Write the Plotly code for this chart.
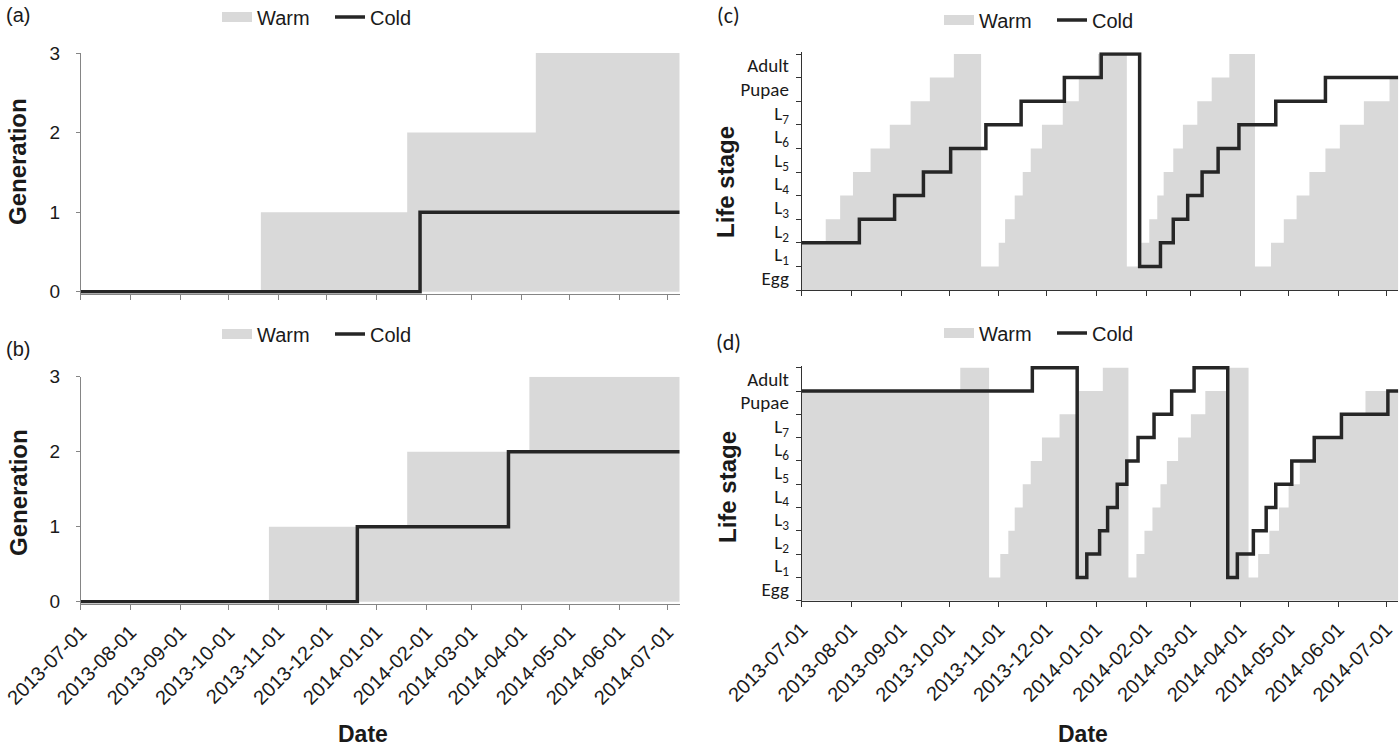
import plotly.graph_objects as go

# ---------------- data ----------------
END_DATE = "2014-07-08 12:00"

month_ticks = ["2013-07-01", "2013-08-01", "2013-09-01", "2013-10-01", "2013-11-01",
               "2013-12-01", "2014-01-01", "2014-02-01", "2014-03-01", "2014-04-01",
               "2014-05-01", "2014-06-01", "2014-07-01"]

gen_ticks = [0, 1, 2, 3]

stage_labels = ["Egg", "L<sub>1</sub>", "L<sub>2</sub>", "L<sub>3</sub>", "L<sub>4</sub>",
                "L<sub>5</sub>", "L<sub>6</sub>", "L<sub>7</sub>", "Pupae", "Adult"]
stage_label_pos = [0.5, 1.5, 2.5, 3.5, 4.5, 5.5, 6.5, 7.5, 8.5, 9.5]
stage_bounds = [0, 1, 2, 3, 4, 5, 6, 7, 8, 9, 10]

# (a) generations
a_warm_dates = ["2013-07-01", "2013-10-21", "2014-01-20", "2014-04-10"]
a_warm_gen = [0, 1, 2, 3]
a_cold_dates = ["2013-07-01", "2014-01-28"]
a_cold_gen = [0, 1]

# (b) generations
b_warm_dates = ["2013-07-01", "2013-10-26", "2014-01-20", "2014-04-06"]
b_warm_gen = [0, 1, 2, 3]
b_cold_dates = ["2013-07-01", "2013-12-20", "2014-03-24"]
b_cold_gen = [0, 1, 2]

# (c) life stage (1 = Egg ... 8 = L7, 9 = Pupae, 10 = Adult)
c_warm_dates = ["2013-07-01", "2013-07-16", "2013-07-25", "2013-08-02", "2013-08-13",
                "2013-08-25", "2013-09-07", "2013-09-19", "2013-10-04", "2013-10-21",
                "2013-11-01", "2013-11-05", "2013-11-11", "2013-11-16", "2013-11-21",
                "2013-11-28", "2013-12-11", "2013-12-21", "2014-01-02", "2014-01-20",
                "2014-01-29", "2014-02-03", "2014-02-08", "2014-02-12", "2014-02-18",
                "2014-02-24", "2014-03-05", "2014-03-14", "2014-03-25", "2014-04-10",
                "2014-04-20", "2014-04-28", "2014-05-06", "2014-05-14", "2014-05-24",
                "2014-06-02", "2014-06-17", "2014-07-03"]
c_warm_stage = [2, 3, 4, 5, 6, 7, 8, 9, 10, 1,
                2, 3, 4, 5, 6, 7, 8, 9, 10, 1,
                2, 3, 4, 5, 6, 7, 8, 9, 10, 1,
                2, 3, 4, 5, 6, 7, 8, 9]
c_cold_dates = ["2013-07-01", "2013-08-06", "2013-08-28", "2013-09-15", "2013-10-02",
                "2013-10-24", "2013-11-15", "2013-12-12", "2014-01-04", "2014-01-28",
                "2014-02-10", "2014-02-18", "2014-02-27", "2014-03-08", "2014-03-18",
                "2014-03-31", "2014-04-23", "2014-05-24"]
c_cold_stage = [2, 3, 4, 5, 6, 7, 8, 9, 10, 1,
                2, 3, 4, 5, 6, 7, 8, 9]

# (d) life stage
d_warm_dates = ["2013-07-01", "2013-10-08", "2013-10-26", "2013-11-02", "2013-11-07",
                "2013-11-11", "2013-11-16", "2013-11-21", "2013-11-28", "2013-12-09",
                "2013-12-21", "2014-01-05", "2014-01-21", "2014-01-26", "2014-01-31",
                "2014-02-05", "2014-02-10", "2014-02-14", "2014-02-21", "2014-03-01",
                "2014-03-10", "2014-03-24", "2014-04-06", "2014-04-12", "2014-04-19",
                "2014-04-25", "2014-05-01", "2014-05-08", "2014-05-17", "2014-06-03",
                "2014-06-18"]
d_warm_stage = [9, 10, 1, 2, 3, 4, 5, 6, 7, 8,
                9, 10, 1, 2, 3, 4, 5, 6, 7, 8,
                9, 10, 1, 2, 3, 4, 5, 6, 7, 8,
                9]
d_cold_dates = ["2013-07-01", "2013-11-22", "2013-12-20", "2013-12-26", "2014-01-03",
                "2014-01-08", "2014-01-14", "2014-01-20", "2014-01-27", "2014-02-06",
                "2014-02-17", "2014-03-03", "2014-03-24", "2014-03-30", "2014-04-09",
                "2014-04-17", "2014-04-23", "2014-05-03", "2014-05-17", "2014-06-03",
                "2014-07-02"]
d_cold_stage = [9, 10, 1, 2, 3, 4, 5, 6, 7, 8,
                9, 10, 1, 2, 3, 4, 5, 6, 7, 8,
                9]

# ---------------- styling ----------------
W, H = 1400, 748
WARM_FILL = "#d9d9d9"
COLD_LINE = "#262626"
TXT = "#1a1a1a"
ARIAL = "Liberation Sans, Arial, sans-serif"
CALIB = "Carlito, Lato, sans-serif"


def px_x(p):
    return p / W


def px_y(p):
    return 1 - p / H


def ext(dates, vals):
    return list(dates) + [END_DATE], list(vals) + [vals[-1]]


fig = go.Figure()

panels = [
    ("x", "y", a_warm_dates, a_warm_gen, a_cold_dates, a_cold_gen, "legend"),
    ("x2", "y2", b_warm_dates, b_warm_gen, b_cold_dates, b_cold_gen, "legend2"),
    ("x3", "y3", c_warm_dates, c_warm_stage, c_cold_dates, c_cold_stage, "legend3"),
    ("x4", "y4", d_warm_dates, d_warm_stage, d_cold_dates, d_cold_stage, "legend4"),
]

for xa, ya, wd, wv, cd, cv, lg in panels:
    wx, wy = ext(wd, wv)
    cx, cy = ext(cd, cv)
    fig.add_trace(go.Scatter(x=wx, y=wy, mode="lines", line=dict(width=0, shape="hv"),
                             fill="tozeroy", fillcolor=WARM_FILL, showlegend=False,
                             hoverinfo="skip", xaxis=xa, yaxis=ya))
    # legend swatch for the warm area
    fig.add_trace(go.Scatter(x=[None], y=[None], mode="lines", name="Warm",
                             line=dict(color=WARM_FILL, width=10),
                             legend=lg, xaxis=xa, yaxis=ya))
    fig.add_trace(go.Scatter(x=cx, y=cy, mode="lines", name="Cold",
                             line=dict(color=COLD_LINE, width=3.5, shape="hv"),
                             legend=lg, xaxis=xa, yaxis=ya))

xr = ["2013-07-01", END_DATE]

common_x = dict(type="date", range=xr, tickmode="array", tickvals=month_ticks,
                ticks="outside", ticklen=5, showgrid=False, zeroline=False,
                showline=True, linewidth=1, automargin=False)

ab_col = "#858585"
cd_col = "#333333"

xdom_left = [px_x(80.8), px_x(679.7)]
xdom_right = [px_x(801.7), px_x(1398.3)]

date_font = dict(family=ARIAL, size=20, color=TXT)

fig.update_layout(
    width=W, height=H,
    margin=dict(l=0, r=0, t=0, b=0, pad=0, autoexpand=False),
    paper_bgcolor="white", plot_bgcolor="white",
    font=dict(family=ARIAL, size=18, color=TXT),
    xaxis=dict(common_x, domain=xdom_left, anchor="y", showticklabels=False,
               linecolor=ab_col, tickcolor=ab_col),
    xaxis2=dict(common_x, domain=xdom_left, anchor="y2", showticklabels=True,
                ticktext=month_ticks, tickangle=-45, tickfont=date_font,
                ticklabeloverflow="allow", ticklabelstandoff=3,
                linecolor=ab_col, tickcolor=ab_col),
    xaxis3=dict(common_x, domain=xdom_right, anchor="y3", showticklabels=False,
                linecolor=cd_col, tickcolor=cd_col),
    xaxis4=dict(common_x, domain=xdom_right, anchor="y4", showticklabels=True,
                ticktext=month_ticks, tickangle=-45, tickfont=date_font,
                ticklabeloverflow="allow", ticklabelstandoff=3,
                linecolor=cd_col, tickcolor=cd_col),
    yaxis=dict(domain=[px_y(293.7), px_y(53)], anchor="x", range=[-0.025, 3],
               tickmode="array", tickvals=gen_ticks, ticks="outside", ticklen=4,
               ticklabelstandoff=12, showgrid=False, zeroline=False, showline=True,
               linecolor=ab_col, tickcolor=ab_col, automargin=False,
               tickfont=dict(family=ARIAL, size=19, color=TXT)),
    yaxis2=dict(domain=[px_y(603.6), px_y(376.7)], anchor="x2", range=[-0.025, 3],
                tickmode="array", tickvals=gen_ticks, ticks="outside", ticklen=4,
                ticklabelstandoff=12, showgrid=False, zeroline=False, showline=True,
                linecolor=ab_col, tickcolor=ab_col, automargin=False,
                tickfont=dict(family=ARIAL, size=19, color=TXT)),
    yaxis3=dict(domain=[px_y(290), px_y(52.35)], anchor="x3", range=[0, 10.07],
                tickmode="array", tickvals=stage_label_pos, ticktext=stage_labels,
                ticks="", ticklabelstandoff=8, showgrid=False, zeroline=False,
                showline=True, linecolor=cd_col, automargin=False,
                minor=dict(tickmode="array", tickvals=stage_bounds, ticks="outside",
                           ticklen=5, tickcolor=cd_col, showgrid=False),
                tickfont=dict(family=CALIB, size=19, color=TXT)),
    yaxis4=dict(domain=[px_y(600.7), px_y(366.07)], anchor="x4", range=[0, 10.07],
                tickmode="array", tickvals=stage_label_pos, ticktext=stage_labels,
                ticks="", ticklabelstandoff=8, showgrid=False, zeroline=False,
                showline=True, linecolor=cd_col, automargin=False,
                minor=dict(tickmode="array", tickvals=stage_bounds, ticks="outside",
                           ticklen=5, tickcolor=cd_col, showgrid=False),
                tickfont=dict(family=CALIB, size=19, color=TXT)),
)

leg_common = dict(orientation="h", xanchor="left", yanchor="middle",
                  bgcolor="rgba(0,0,0,0)", font=dict(family=ARIAL, size=20, color=TXT),
                  traceorder="normal", itemclick=False, itemdoubleclick=False,
                  entrywidth=68, entrywidthmode="pixels")
fig.update_layout(
    legend=dict(leg_common, x=px_x(217), y=px_y(17)),
    legend2=dict(leg_common, x=px_x(217), y=px_y(334)),
    legend3=dict(leg_common, x=px_x(939), y=px_y(20)),
    legend4=dict(leg_common, x=px_x(939), y=px_y(333)),
)

annots = [
    dict(text="(a)", x=px_x(18), y=px_y(15), font=dict(family=ARIAL, size=20, color=TXT)),
    dict(text="(b)", x=px_x(18), y=px_y(349), font=dict(family=ARIAL, size=20, color=TXT)),
    dict(text="(c)", x=px_x(728), y=px_y(16), font=dict(family=CALIB, size=22, color=TXT)),
    dict(text="(d)", x=px_x(728), y=px_y(343), font=dict(family=CALIB, size=22, color=TXT)),
    dict(text="<b>Generation</b>", x=px_x(18), y=px_y(162), textangle=-90,
         font=dict(family=ARIAL, size=24, color=TXT)),
    dict(text="<b>Generation</b>", x=px_x(18), y=px_y(493), textangle=-90,
         font=dict(family=ARIAL, size=24, color=TXT)),
    dict(text="<b>Life stage</b>", x=px_x(726), y=px_y(182), textangle=-90,
         font=dict(family=ARIAL, size=24, color=TXT)),
    dict(text="<b>Life stage</b>", x=px_x(727), y=px_y(487), textangle=-90,
         font=dict(family=ARIAL, size=24, color=TXT)),
    dict(text="<b>Date</b>", x=px_x(363), y=px_y(734), font=dict(family=ARIAL, size=23, color=TXT)),
    dict(text="<b>Date</b>", x=px_x(1083), y=px_y(734), font=dict(family=ARIAL, size=23, color=TXT)),
]
for a in annots:
    a.update(xref="paper", yref="paper", showarrow=False, xanchor="center", yanchor="middle")
fig.update_layout(annotations=annots)

fig.write_html("out.html", config={"displayModeBar": False},
               post_script="document.body.style.margin='0px';document.body.style.padding='0px';")
